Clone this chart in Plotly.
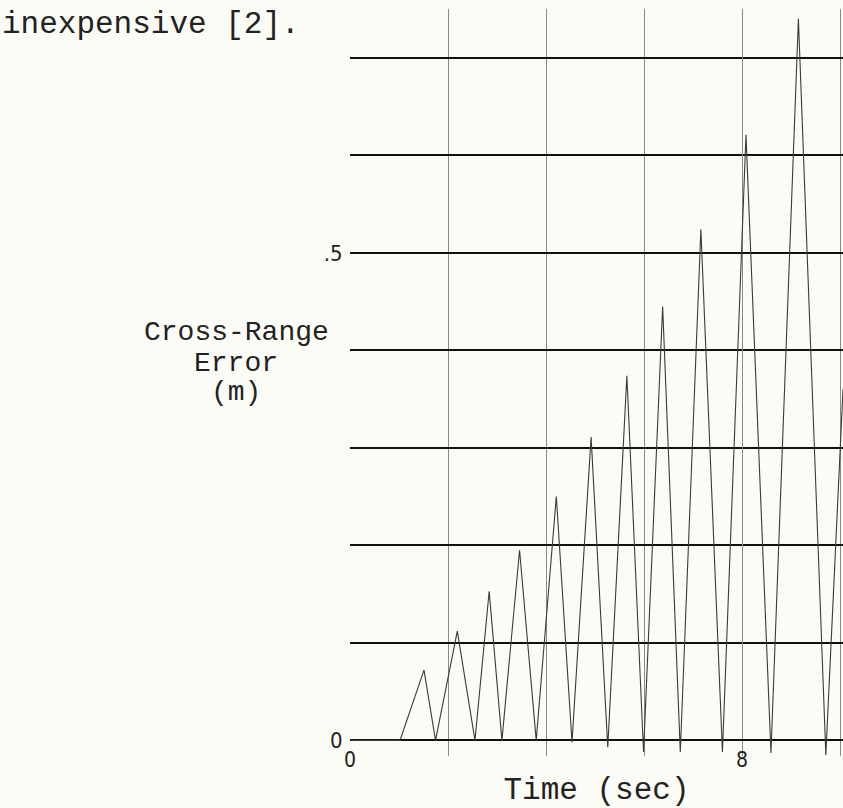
import plotly.graph_objects as go

# Data
time_s = [0, 1.02, 1.51, 1.745, 2.19, 2.55, 2.84, 3.10, 3.46, 3.80, 4.21, 4.53,
          4.92, 5.26, 5.65, 5.99, 6.38, 6.74, 7.16, 7.60, 8.08, 8.59, 9.15, 9.71, 10.06]
error_m = [0, 0, 0.072, 0, 0.112, 0, 0.153, 0, 0.195, 0, 0.250, -0.002,
           0.311, -0.007, 0.374, -0.012, 0.445, -0.012, 0.524, -0.012, 0.621, -0.013,
           0.740, -0.015, 0.36]
y_tickvals = [0, 0.5]
y_ticktext = ["0", ".5"]
x_tickvals = [0, 8]
x_ticktext = ["0", "8"]

W, H = 843, 808
L, R, T, B = 350, 0, 9, 52
pw = W - L - R
ph = H - T - B


def px_x(px):
    return (px - L) / pw


def px_y(py):
    return 1 - (py - T) / ph


mono = "Liberation Mono, Courier New, monospace"
narrow = "Liberation Sans Narrow, DejaVu Sans Condensed, Arial Narrow, sans-serif"
bg = "#fcfcf6"

fig = go.Figure()
fig.add_trace(go.Scatter(x=time_s, y=error_m, mode="lines",
                         line=dict(color="#3a3a3a", width=1.1),
                         showlegend=False, hoverinfo="skip"))

fig.update_layout(
    width=W, height=H,
    margin=dict(l=L, r=R, t=T, b=B, pad=0),
    paper_bgcolor=bg, plot_bgcolor=bg,
    showlegend=False,
    xaxis=dict(range=[0, 10.06], tickvals=x_tickvals, ticktext=x_ticktext,
               showgrid=True, gridcolor="#8a8a8a", gridwidth=1,
               minor=dict(dtick=2, tick0=0, showgrid=True, gridcolor="#8a8a8a", gridwidth=1),
               zeroline=False, showline=False, ticks="",
               ticklabelstandoff=-11,
               tickfont=dict(family=narrow, size=21, color="#222"),
               title=dict(text="Time (sec)", font=dict(family=mono, size=31, color="#222"),
                          standoff=6)),
    yaxis=dict(range=[-0.016, 0.75], tickvals=y_tickvals, ticktext=y_ticktext,
               showgrid=True, gridcolor="#111", gridwidth=2,
               minor=dict(dtick=0.1, tick0=0, showgrid=True, gridcolor="#111", gridwidth=2),
               zeroline=True, zerolinecolor="#111", zerolinewidth=2,
               showline=False, ticks="outside", ticklen=2, tickcolor="rgba(0,0,0,0)",
               tickfont=dict(family=narrow, size=22, color="#222")),
)

fig.add_annotation(text="inexpensive [2].", xref="paper", yref="paper",
                   x=px_x(0), y=px_y(24), xanchor="left", yanchor="middle",
                   showarrow=False, font=dict(family=mono, size=31, color="#222"))
for label, py in [("Cross-Range", 332), ("Error", 363), ("(m)", 393)]:
    fig.add_annotation(text=label, xref="paper", yref="paper",
                       x=px_x(236), y=px_y(py), xanchor="center", yanchor="middle",
                       showarrow=False, font=dict(family=mono, size=28, color="#222"))

fig.write_html("out.html", config={"displayModeBar": False, "staticPlot": True})

with open("out.html", "r", encoding="utf-8") as f:
    html = f.read()
html = html.replace("<head>", "<head><style>html,body{margin:0;padding:0;overflow:hidden;}</style>", 1)
with open("out.html", "w", encoding="utf-8") as f:
    f.write(html)
